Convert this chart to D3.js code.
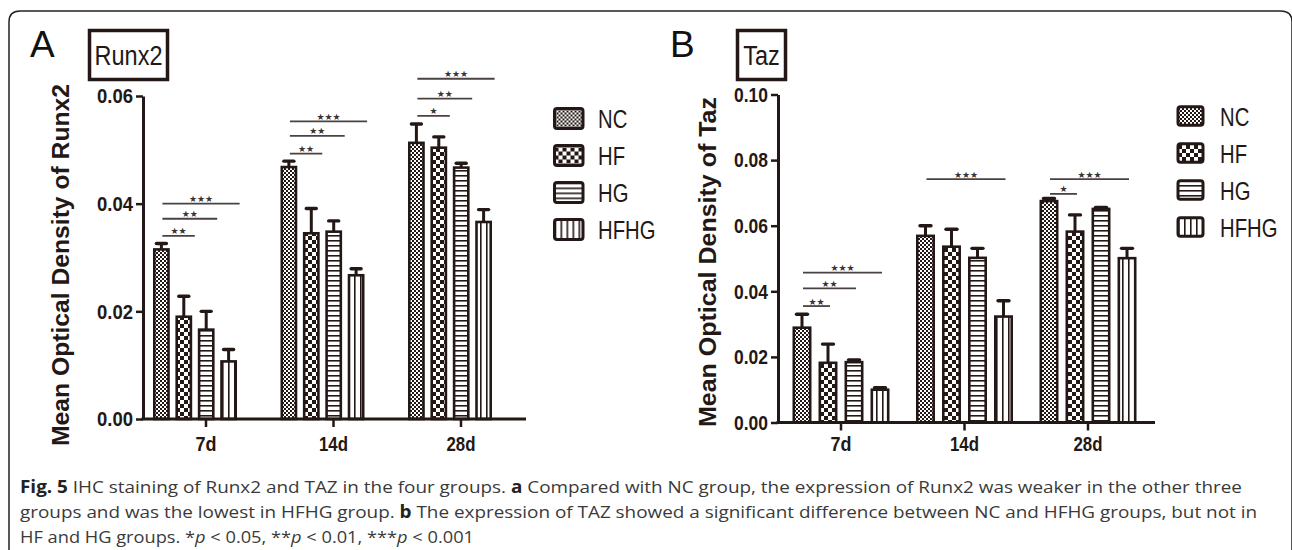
<!DOCTYPE html>
<html>
<head>
<meta charset="utf-8">
<script src="https://cdn.jsdelivr.net/npm/d3@7"></script>
<style>
  html, body { margin: 0; padding: 0; background: #fff; }
  svg { display: block; }
</style>
</head>
<body>
<svg id="fig" width="1292" height="550"></svg>
<script>
/* global d3 */

// ---- data ---------------------------------------------------------------
const days   = ["7d", "14d", "28d"];
const groups = ["NC", "HF", "HG", "HFHG"];

// Runx2 mean optical density (7d, 14d, 28d) and SEM
const runx2NC   = [0.0315, 0.0468, 0.0513];
const runx2HF   = [0.0190, 0.0345, 0.0504];
const runx2HG   = [0.0166, 0.0348, 0.0467];
const runx2HFHG = [0.0107, 0.0267, 0.0366];
const runx2NCErr   = [0.0011, 0.0011, 0.0035];
const runx2HFErr   = [0.0038, 0.0046, 0.0020];
const runx2HGErr   = [0.0034, 0.0020, 0.0008];
const runx2HFHGErr = [0.0022, 0.0012, 0.0023];

// Taz mean optical density and SEM
const tazNC   = [0.0289, 0.0569, 0.0675];
const tazHF   = [0.0182, 0.0536, 0.0582];
const tazHG   = [0.0184, 0.0502, 0.0651];
const tazHFHG = [0.0100, 0.0323, 0.0501];
const tazNCErr   = [0.0041, 0.0031, 0.0008];
const tazHFErr   = [0.0057, 0.0053, 0.0051];
const tazHGErr   = [0.0007, 0.0029, 0.0005];
const tazHFHGErr = [0.0006, 0.0048, 0.0030];

// significance brackets vs NC: [day, compared group, stars, height]
const runx2Sig = [
  ["7d", "HF", 2, 0.0340], ["7d", "HG", 2, 0.0372], ["7d", "HFHG", 3, 0.0400],
  ["14d", "HF", 2, 0.0493], ["14d", "HG", 2, 0.0526], ["14d", "HFHG", 3, 0.0553],
  ["28d", "HF", 1, 0.0563], ["28d", "HG", 2, 0.0595], ["28d", "HFHG", 3, 0.0632]
];
const tazSig = [
  ["7d", "HF", 2, 0.0355], ["7d", "HG", 2, 0.0409], ["7d", "HFHG", 3, 0.0457],
  ["14d", "HFHG", 3, 0.0742],
  ["28d", "HF", 1, 0.0697], ["28d", "HFHG", 3, 0.0742]
];

const runx2Ticks = [0, 0.02, 0.04, 0.06];
const tazTicks   = [0, 0.02, 0.04, 0.06, 0.08, 0.10];

// ---- setup --------------------------------------------------------------
const ink  = "#231815";
const sans = "'Liberation Sans', Arial, sans-serif";
const svg  = d3.select("#fig");
const defs = svg.append("defs");

// frame (right edge falls just outside the picture)
svg.append("path")
  .attr("d", "M9,560 V22 Q9,11 20,11 H1281 Q1292,11 1292,22 V560")
  .attr("fill", "none").attr("stroke", "#222").attr("stroke-width", 1.5);

// fill patterns
function pattern(id, w, h, draw) {
  const p = defs.append("pattern").attr("id", id)
    .attr("patternUnits", "userSpaceOnUse").attr("width", w).attr("height", h);
  p.append("rect").attr("width", w).attr("height", h).attr("fill", "#fff");
  draw(p);
}
pattern("pNC", 4, 4, p => {
  p.append("rect").attr("width", 2).attr("height", 2).attr("fill", ink);
  p.append("rect").attr("x", 2).attr("y", 2).attr("width", 2).attr("height", 2).attr("fill", ink);
});
pattern("pHF", 8, 8, p => {
  p.append("rect").attr("width", 4).attr("height", 4).attr("fill", ink);
  p.append("rect").attr("x", 4).attr("y", 4).attr("width", 4).attr("height", 4).attr("fill", ink);
});
pattern("pHG", 4, 5, p => {
  p.append("rect").attr("width", 4).attr("height", 1.6).attr("fill", ink);
});
pattern("pHFHG", 6, 4, p => {
  p.append("rect").attr("width", 1.6).attr("height", 4).attr("fill", ink);
});

// narrow bold labels like the original figure
const tickLen = { "7d": 21, "14d": 29, "28d": 29 };

// ---- panel --------------------------------------------------------------
function drawPanel(p) {
  const g = svg.append("g");
  const y = d3.scaleLinear().domain([0, p.yMax]).range([p.y0, p.yTop]);
  const x0 = d3.scaleBand().domain(days).range(p.xRange)
    .paddingInner(p.groupPad).paddingOuter(p.groupPad / 2);
  const x1 = d3.scaleBand().domain(groups).range([0, x0.bandwidth()]).paddingInner(p.barPad);
  const bw = x1.bandwidth();
  const sw = 2.6;

  const rows = [];
  days.forEach((d, i) => groups.forEach(k =>
    rows.push({ day: d, grp: k, v: p.mean[k][i], e: p.err[k][i] })));

  const cx = r => x0(r.day) + x1(r.grp) + bw / 2;

  // error bars (upper only)
  g.selectAll(".err").data(rows).enter().append("line")
    .attr("x1", cx).attr("x2", cx)
    .attr("y1", r => y(r.v)).attr("y2", r => y(r.v + r.e))
    .attr("stroke", ink).attr("stroke-width", 3);
  g.selectAll(".cap").data(rows).enter().append("line")
    .attr("x1", r => cx(r) - p.capW / 2).attr("x2", r => cx(r) + p.capW / 2)
    .attr("y1", r => y(r.v + r.e)).attr("y2", r => y(r.v + r.e))
    .attr("stroke", ink).attr("stroke-width", 3.4).attr("stroke-linecap", "round");

  // bars
  g.selectAll(".bar").data(rows).enter().append("rect")
    .attr("x", r => x0(r.day) + x1(r.grp) + sw / 2)
    .attr("width", bw - sw)
    .attr("y", r => y(r.v))
    .attr("height", r => p.y0 - y(r.v))
    .attr("fill", r => `url(#p${r.grp})`)
    .attr("stroke", ink).attr("stroke-width", sw);

  // significance lines
  p.sig.forEach(([day, grp, n, h]) => {
    const xa = x0(day) + x1("NC") + bw / 2 + 1;
    const xb = x0(day) + x1(grp) + bw / 2 + p.sigPad;
    g.append("line").attr("x1", xa).attr("x2", xb).attr("y1", y(h)).attr("y2", y(h))
      .attr("stroke", "#4a4242").attr("stroke-width", 1.8);
    g.append("text").attr("x", (xa + xb) / 2).attr("y", y(h) - 1.5)
      .attr("text-anchor", "middle")
      .style("font", "9px 'DejaVu Sans'").attr("fill", "#3a3333")
      .text("\u2605".repeat(n));
  });

  // y axis
  const ya = g.append("g").attr("transform", `translate(${p.xAxis0},0)`)
    .call(d3.axisLeft(y).tickValues(p.ticks).tickFormat(d3.format(".2f"))
      .tickSize(7).tickSizeOuter(0).tickPadding(3));
  ya.select(".domain").attr("stroke", ink).attr("stroke-width", 3);
  ya.selectAll(".tick line").attr("stroke", ink).attr("stroke-width", 2.5);
  ya.selectAll(".tick text").attr("fill", ink)
    .attr("textLength", p.tickTextLen).attr("lengthAdjust", "spacingAndGlyphs")
    .style("font", `bold 21px ${sans}`);

  // x axis
  g.append("line").attr("x1", p.xAxis0 - 1.5).attr("x2", p.xAxisEnd)
    .attr("y1", p.y0).attr("y2", p.y0).attr("stroke", ink).attr("stroke-width", 3);
  const xa = g.append("g").attr("transform", `translate(${p.tickShift},${p.y0})`)
    .call(d3.axisBottom(x0).tickSize(8).tickSizeOuter(0).tickPadding(p.xPad));
  xa.select(".domain").remove();
  xa.selectAll(".tick line").attr("stroke", ink).attr("stroke-width", 2.5);
  xa.selectAll(".tick text").attr("fill", ink)
    .attr("textLength", d => tickLen[d]).attr("lengthAdjust", "spacingAndGlyphs")
    .style("font", `bold 21px ${sans}`);

  // y title
  g.append("text")
    .attr("transform", `translate(${p.titleX},${p.titleY}) rotate(-90)`)
    .attr("text-anchor", "middle").attr("fill", ink)
    .attr("textLength", p.titleLen).attr("lengthAdjust", "spacingAndGlyphs")
    .style("font", `bold 24px ${sans}`)
    .text(p.title);

  // panel letter
  g.append("text").attr("x", p.letterX).attr("y", 57).attr("fill", "#111")
    .style("font", `37px ${sans}`).text(p.letter);

  // boxed gene label
  g.append("rect").attr("x", p.box[0]).attr("y", 30.5).attr("width", p.box[1]).attr("height", 49)
    .attr("fill", "none").attr("stroke", ink).attr("stroke-width", 3.5);
  g.append("text")
    .attr("transform", `translate(${p.box[0] + p.box[1] / 2},65) scale(0.84,1)`)
    .attr("text-anchor", "middle").attr("fill", ink)
    .style("font", `28px ${sans}`).text(p.gene);

  // legend
  const lg = g.selectAll(".lg").data(groups).enter().append("g")
    .attr("transform", (d, i) => `translate(${p.legX},${p.legY + i * 37})`);
  lg.append("rect").attr("x", 0).attr("y", -p.legH / 2).attr("width", p.legW).attr("height", p.legH)
    .attr("rx", 2.5).attr("fill", d => `url(#p${d})`).attr("stroke", ink).attr("stroke-width", 3);
  lg.append("text")
    .attr("transform", `translate(${p.legW + p.legGap},9.5) scale(0.78,1)`)
    .attr("fill", ink).style("font", `26px ${sans}`).text(d => d);
}

drawPanel({
  letter: "A", letterX: 30, gene: "Runx2", box: [89.5, 78],
  title: "Mean Optical Density of Runx2", titleX: 69, titleY: 265, titleLen: 362,
  mean: { NC: runx2NC, HF: runx2HF, HG: runx2HG, HFHG: runx2HFHG },
  err:  { NC: runx2NCErr, HF: runx2HFErr, HG: runx2HGErr, HFHG: runx2HFHGErr },
  sig: runx2Sig, ticks: runx2Ticks, yMax: 0.06, y0: 419, yTop: 96,
  xRange: [131.25, 513.75], groupPad: 0.341, barPad: 0.25,
  xAxis0: 143, xAxisEnd: 526, tickShift: 11, xPad: 9, tickTextLen: 36,
  capW: 10, sigPad: 11,
  legX: 554.5, legY: 118.5, legW: 28.5, legH: 20, legGap: 15
});

drawPanel({
  letter: "B", letterX: 670, gene: "Taz", box: [737.5, 48],
  title: "Mean Optical Density of Taz", titleX: 716, titleY: 262, titleLen: 330,
  mean: { NC: tazNC, HF: tazHF, HG: tazHG, HFHG: tazHFHG },
  err:  { NC: tazNCErr, HF: tazHFErr, HG: tazHGErr, HFHG: tazHFHGErr },
  sig: tazSig, ticks: tazTicks, yMax: 0.10, y0: 422.5, yTop: 94.5,
  xRange: [779.25, 1149.75], groupPad: 0.2146, barPad: 0.27,
  xAxis0: 778, xAxisEnd: 1155, tickShift: 0, xPad: 6, tickTextLen: 34,
  capW: 11, sigPad: 2,
  legX: 1178, legY: 116, legW: 25, legH: 18.5, legGap: 17
});

// ---- caption ------------------------------------------------------------
const capLines = [
  { y: 493, len: 1222, parts: [["Fig. 5", "b"], [" IHC staining of Runx2 and TAZ in the four groups. "], ["a", "b"],
    [" Compared with NC group, the expression of Runx2 was weaker in the other three"]] },
  { y: 518, len: 1237, parts: [["groups and was the lowest in HFHG group. "], ["b", "b"],
    [" The expression of TAZ showed a significant difference between NC and HFHG groups, but not in"]] },
  { y: 543, len: 454, parts: [["HF and HG groups. *"], ["p", "i"], [" < 0.05, **"], ["p", "i"],
    [" < 0.01, ***"], ["p", "i"], [" < 0.001"]] }
];
capLines.forEach(l => {
  const t = svg.append("text").attr("x", 20).attr("y", l.y)
    .attr("textLength", l.len).attr("lengthAdjust", "spacingAndGlyphs")
    .attr("fill", "#3a3a3a").style("font", "17px 'Open Sans', 'Noto Sans', sans-serif");
  l.parts.forEach(([s, f]) => {
    const ts = t.append("tspan").text(s);
    if (f === "b") ts.attr("font-weight", "bold").attr("fill", "#222");
    if (f === "i") ts.attr("font-style", "italic");
  });
});
</script>
</body>
</html>
